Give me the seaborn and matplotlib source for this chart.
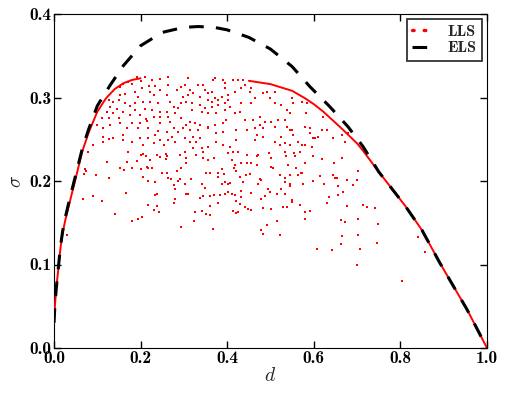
import matplotlib
matplotlib.use("Agg")
import matplotlib.pyplot as plt
from matplotlib.lines import Line2D
import seaborn as sns

# scattered LLS points (d, sigma)
scatter_d = [
    0.192, 0.211, 0.226, 0.245, 0.264, 0.200, 0.180, 0.172, 0.160, 0.153, 0.220, 0.233, 0.203, 0.245, 0.263,
    0.153, 0.164, 0.187, 0.222, 0.195, 0.232, 0.260, 0.126, 0.136, 0.149, 0.164, 0.187, 0.206, 0.222, 0.241,
    0.268, 0.276, 0.129, 0.145, 0.176, 0.187, 0.160, 0.210, 0.226, 0.245, 0.260, 0.122, 0.137, 0.176, 0.199,
    0.213, 0.230, 0.245, 0.264, 0.280, 0.110, 0.126, 0.149, 0.153, 0.180, 0.199, 0.214, 0.245, 0.268, 0.129,
    0.099, 0.114, 0.168, 0.195, 0.218, 0.241, 0.260, 0.276, 0.272, 0.114, 0.126, 0.137, 0.160, 0.160, 0.180,
    0.199, 0.218, 0.233, 0.245, 0.264, 0.280, 0.091, 0.114, 0.206, 0.230, 0.253,
    0.310, 0.294, 0.283, 0.302, 0.314, 0.321, 0.333, 0.344, 0.348, 0.356, 0.364, 0.368, 0.371, 0.391, 0.395,
    0.395, 0.414, 0.425, 0.437, 0.441, 0.452, 0.456, 0.433, 0.418, 0.402, 0.387, 0.402, 0.379, 0.371, 0.364,
    0.356, 0.337, 0.310, 0.306, 0.294, 0.298, 0.318, 0.337, 0.348, 0.364, 0.379, 0.395, 0.406, 0.433, 0.456,
    0.464, 0.483, 0.491, 0.510, 0.498, 0.510, 0.525, 0.537, 0.545, 0.287, 0.318, 0.341, 0.356, 0.375, 0.395,
    0.418, 0.429, 0.441, 0.460, 0.475, 0.487, 0.502, 0.518, 0.533, 0.294, 0.314, 0.325, 0.337, 0.356, 0.371,
    0.391, 0.398, 0.306, 0.298, 0.287, 0.314, 0.333, 0.356, 0.375, 0.391, 0.421, 0.445, 0.464, 0.475, 0.483,
    0.510, 0.537, 0.545, 0.321, 0.337, 0.329, 0.314, 0.302, 0.375, 0.391, 0.406, 0.356, 0.421, 0.464, 0.468,
    0.483, 0.510, 0.525, 0.533, 0.545, 0.341, 0.321, 0.522,
    0.549, 0.553, 0.572, 0.584, 0.582, 0.622, 0.580, 0.591, 0.618, 0.630, 0.549, 0.553, 0.591, 0.603, 0.610,
    0.645, 0.664, 0.680, 0.672, 0.564, 0.572, 0.580, 0.595, 0.599,
    0.079, 0.122, 0.072, 0.074, 0.069, 0.097, 0.128, 0.153, 0.162, 0.168, 0.172, 0.180, 0.191, 0.200, 0.206,
    0.213, 0.222, 0.218, 0.200, 0.205, 0.216, 0.233, 0.237, 0.245, 0.259, 0.262, 0.259, 0.249, 0.260, 0.264,
    0.270, 0.276, 0.280, 0.226, 0.214, 0.166, 0.237, 0.233, 0.091, 0.068, 0.112, 0.280, 0.276, 0.218, 0.239,
    0.231, 0.243, 0.141, 0.203, 0.195, 0.180,
    0.291, 0.302, 0.306, 0.306, 0.294, 0.316, 0.287, 0.291, 0.302, 0.283, 0.329, 0.344, 0.344, 0.356, 0.370,
    0.360, 0.352, 0.379, 0.387, 0.393, 0.379, 0.341, 0.348, 0.387, 0.396, 0.406, 0.410, 0.402, 0.414, 0.425,
    0.445, 0.433, 0.445, 0.456, 0.418, 0.416, 0.421, 0.443, 0.429, 0.452, 0.468, 0.472, 0.468, 0.496, 0.501,
    0.533, 0.535, 0.506, 0.502, 0.479, 0.475, 0.472, 0.437, 0.402, 0.433, 0.456, 0.402, 0.410, 0.421, 0.395,
    0.383, 0.360, 0.370, 0.344, 0.337, 0.310, 0.306, 0.279, 0.379, 0.418, 0.433, 0.429, 0.441, 0.448, 0.456,
    0.414, 0.421, 0.425, 0.360, 0.341, 0.352, 0.325, 0.324, 0.360, 0.294, 0.368, 0.502, 0.483, 0.479, 0.488,
    0.498, 0.495, 0.514, 0.525, 0.533, 0.533, 0.522, 0.545, 0.541, 0.533, 0.529, 0.537, 0.514, 0.491, 0.545,
    0.554, 0.557, 0.568, 0.597, 0.580, 0.620, 0.664, 0.647, 0.560, 0.564, 0.570, 0.572, 0.545, 0.576, 0.597,
    0.614, 0.624, 0.644, 0.649, 0.653, 0.676, 0.699, 0.703, 0.690, 0.657, 0.667, 0.657, 0.636, 0.630, 0.549,
    0.549, 0.567, 0.580, 0.591, 0.580, 0.676, 0.714, 0.722, 0.741, 0.701, 0.662, 0.672, 0.749,
    0.029, 0.478, 0.482, 0.522,
    0.607, 0.643, 0.664, 0.662, 0.703, 0.707, 0.745, 0.699, 0.803, 0.840, 0.857,
]
scatter_sigma = [
    0.324, 0.324, 0.321, 0.322, 0.324, 0.320, 0.316, 0.319, 0.316, 0.313, 0.314, 0.314, 0.311, 0.309, 0.315,
    0.303, 0.304, 0.307, 0.307, 0.301, 0.303, 0.303, 0.297, 0.295, 0.297, 0.293, 0.293, 0.295, 0.295, 0.293,
    0.295, 0.289, 0.289, 0.286, 0.290, 0.285, 0.283, 0.286, 0.285, 0.283, 0.283, 0.283, 0.281, 0.279, 0.279,
    0.274, 0.277, 0.277, 0.277, 0.282, 0.276, 0.275, 0.275, 0.269, 0.269, 0.269, 0.272, 0.269, 0.271, 0.267,
    0.267, 0.263, 0.263, 0.263, 0.263, 0.260, 0.259, 0.263, 0.253, 0.253, 0.250, 0.251, 0.255, 0.249, 0.247,
    0.251, 0.251, 0.255, 0.249, 0.249, 0.247, 0.243, 0.247, 0.243, 0.245, 0.243,
    0.323, 0.313, 0.309, 0.315, 0.309, 0.305, 0.315, 0.315, 0.309, 0.305, 0.307, 0.321, 0.323, 0.321, 0.317,
    0.311, 0.321, 0.321, 0.321, 0.315, 0.307, 0.311, 0.311, 0.307, 0.303, 0.301, 0.297, 0.297, 0.299, 0.295,
    0.297, 0.301, 0.303, 0.295, 0.293, 0.301, 0.293, 0.291, 0.287, 0.289, 0.291, 0.293, 0.289, 0.293, 0.293,
    0.299, 0.305, 0.307, 0.307, 0.299, 0.293, 0.291, 0.285, 0.281, 0.287, 0.285, 0.283, 0.281, 0.281, 0.285,
    0.281, 0.283, 0.273, 0.273, 0.277, 0.271, 0.271, 0.273, 0.273, 0.275, 0.271, 0.269, 0.267, 0.265, 0.267,
    0.269, 0.273, 0.267, 0.263, 0.259, 0.261, 0.261, 0.263, 0.257, 0.259, 0.261, 0.261, 0.263, 0.267, 0.263,
    0.265, 0.265, 0.261, 0.253, 0.251, 0.247, 0.247, 0.251, 0.247, 0.243, 0.241, 0.241, 0.249, 0.249, 0.255,
    0.253, 0.247, 0.253, 0.245, 0.243, 0.239, 0.239, 0.243,
    0.299, 0.293, 0.295, 0.293, 0.281, 0.277, 0.265, 0.263, 0.261, 0.261, 0.261, 0.255, 0.257, 0.251, 0.253,
    0.251, 0.255, 0.257, 0.247, 0.247, 0.243, 0.243, 0.241, 0.251,
    0.235, 0.223, 0.214, 0.212, 0.208, 0.207, 0.204, 0.216, 0.213, 0.223, 0.235, 0.216, 0.224, 0.231, 0.232,
    0.230, 0.225, 0.215, 0.214, 0.205, 0.200, 0.199, 0.231, 0.229, 0.232, 0.230, 0.226, 0.209, 0.210, 0.204,
    0.202, 0.195, 0.190, 0.215, 0.217, 0.186, 0.184, 0.183, 0.182, 0.179, 0.176, 0.178, 0.174, 0.171, 0.170,
    0.165, 0.163, 0.161, 0.157, 0.154, 0.152,
    0.231, 0.235, 0.227, 0.222, 0.216, 0.202, 0.200, 0.202, 0.196, 0.212, 0.231, 0.235, 0.228, 0.225, 0.227,
    0.209, 0.210, 0.209, 0.214, 0.208, 0.205, 0.196, 0.192, 0.197, 0.199, 0.198, 0.225, 0.234, 0.235, 0.235,
    0.231, 0.221, 0.221, 0.221, 0.219, 0.216, 0.212, 0.207, 0.205, 0.208, 0.219, 0.231, 0.230, 0.234, 0.228,
    0.235, 0.230, 0.215, 0.217, 0.201, 0.202, 0.197, 0.199, 0.197, 0.188, 0.186, 0.187, 0.184, 0.176, 0.185,
    0.183, 0.182, 0.183, 0.182, 0.180, 0.185, 0.184, 0.178, 0.174, 0.183, 0.181, 0.172, 0.169, 0.166, 0.165,
    0.164, 0.162, 0.163, 0.170, 0.164, 0.161, 0.163, 0.152, 0.159, 0.145, 0.143, 0.166, 0.168, 0.178, 0.182,
    0.187, 0.191, 0.185, 0.191, 0.199, 0.203, 0.207, 0.196, 0.219, 0.185, 0.169, 0.169, 0.152, 0.147, 0.207,
    0.233, 0.230, 0.235, 0.230, 0.222, 0.226, 0.228, 0.221, 0.215, 0.207, 0.209, 0.210, 0.194, 0.197, 0.200,
    0.206, 0.196, 0.207, 0.203, 0.203, 0.201, 0.201, 0.212, 0.195, 0.194, 0.187, 0.183, 0.181, 0.174, 0.177,
    0.175, 0.171, 0.163, 0.164, 0.154, 0.170, 0.171, 0.169, 0.168, 0.154, 0.153, 0.151, 0.149,
    0.135, 0.141, 0.137, 0.135,
    0.119, 0.117, 0.134, 0.125, 0.135, 0.119, 0.126, 0.100, 0.080, 0.133, 0.115,
]

# LLS upper envelope (solid red), left and right parts
lls_left_d = [0.0, 0.002, 0.005, 0.01, 0.015, 0.02, 0.026, 0.035, 0.05, 0.065, 0.08, 0.10, 0.12, 0.14, 0.16, 0.18, 0.20]
lls_left_sigma = [0.03, 0.05, 0.07, 0.095, 0.12, 0.138, 0.153, 0.172, 0.203, 0.235, 0.258, 0.283, 0.299, 0.310, 0.317, 0.321, 0.323]
lls_right_d = [0.45, 0.50, 0.55, 0.58, 0.60, 0.622, 0.66, 0.70, 0.714, 0.75, 0.81, 0.85, 0.891, 0.954, 1.0]
lls_right_sigma = [0.320, 0.316, 0.308, 0.299, 0.292, 0.283, 0.265, 0.245, 0.236, 0.211, 0.171, 0.141, 0.102, 0.046, 0.0]

# ELS curve (dashed black)
els_d = [0.0, 0.002, 0.005, 0.01, 0.015, 0.02, 0.026, 0.035, 0.05, 0.065, 0.08, 0.1, 0.13, 0.16, 0.2, 0.25,
         0.3, 0.333, 0.37, 0.4, 0.45, 0.5, 0.55, 0.591, 0.637, 0.679, 0.714, 0.75, 0.81, 0.85, 0.891, 0.954, 1.0]
els_sigma = [0.03, 0.05, 0.07, 0.096, 0.122, 0.140, 0.156, 0.176, 0.207, 0.238, 0.262, 0.29, 0.315, 0.338, 0.362,
             0.378, 0.384, 0.385, 0.384, 0.381, 0.372, 0.358, 0.337, 0.313, 0.289, 0.265, 0.241, 0.211, 0.171,
             0.141, 0.102, 0.046, 0.0]

sns.set_style("white", {
    "xtick.direction": "in", "ytick.direction": "in",
    "xtick.top": True, "ytick.right": True,
    "xtick.bottom": True, "ytick.left": True,
    "axes.edgecolor": "black", "axes.linewidth": 1.5,
})
plt.rcParams["font.family"] = ["cmb10", "DejaVu Serif"]
plt.rcParams["mathtext.fontset"] = "cm"
plt.rcParams["axes.unicode_minus"] = False

fig = plt.figure(figsize=(5.06, 3.94), dpi=100)
ax = fig.add_axes([54 / 506, 46 / 394, 433 / 506, 334 / 394])

sns.scatterplot(x=scatter_d, y=scatter_sigma, color="red", s=4, marker="s", linewidth=0, ax=ax, zorder=2)
sns.lineplot(x=lls_left_d, y=lls_left_sigma, color="red", lw=1.4, sort=False, ax=ax, zorder=3)
sns.lineplot(x=lls_right_d, y=lls_right_sigma, color="red", lw=1.4, sort=False, ax=ax, zorder=3)
sns.lineplot(x=els_d, y=els_sigma, color="black", lw=2.2, linestyle=(0, (4.8, 4.0)), sort=False, ax=ax, zorder=4)

ax.set_xlim(0, 1)
ax.set_ylim(0, 0.4)
ax.set_xticks([0.0, 0.2, 0.4, 0.6, 0.8, 1.0])
ax.set_yticks([0.0, 0.1, 0.2, 0.3, 0.4])
ax.tick_params(which="both", direction="in", length=5, width=1, labelsize=12.5, pad=2,
               top=True, right=True, colors="black")
ax.set_xlabel("$d$", fontsize=14, labelpad=1)
ax.set_ylabel("$\\sigma$", fontsize=14, labelpad=3)

handles = [
    Line2D([], [], color="red", lw=2.4, linestyle=(0, (0.5, 3.0)), dash_capstyle="round"),
    Line2D([], [], color="black", lw=2.2, linestyle=(0, (4.8, 4.0))),
]
leg = ax.legend(handles, ["LLS", "ELS"], loc="upper right", fontsize=11.5, frameon=True, fancybox=False,
                handlelength=1.4, borderaxespad=0.3, borderpad=0.35, labelspacing=0.15, handletextpad=0.8)
leg.get_frame().set_edgecolor("black")
leg.get_frame().set_linewidth(1.3)

fig.savefig("out.png", dpi=100)
